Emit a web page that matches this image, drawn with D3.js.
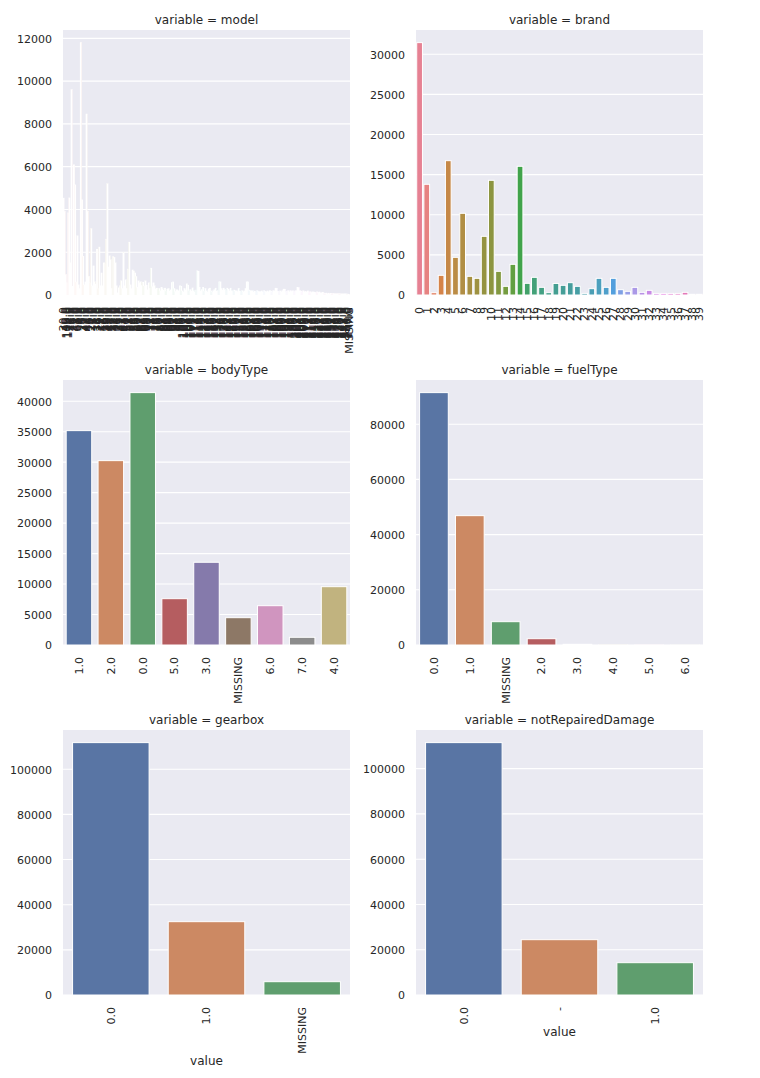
<!DOCTYPE html>
<html><head><meta charset="utf-8">
<script src="https://cdn.jsdelivr.net/npm/d3@7"></script>
<style>
body{margin:0;background:#fff}
svg{display:block}
text{font-family:"DejaVu Sans",sans-serif;fill:#262626}
</style>
</head><body>
<svg id="chart" width="760" height="1078"></svg>
<script>
// ---------------- DATA ----------------
const modelIds = [30,40,115,109,110,24,13,26,19,7,1,48,65,0,4,8,29,31,17,49,46,44,5,10,21,2,6,11,3,36,14,9,22,12,16,15,20,38,25,23,
18,27,28,32,33,34,35,37,39,41,42,43,45,47,50,51,52,53,54,55,56,57,58,59,60,61,62,63,64,
66,67,68,69,70,71,72,73,74,75,76,77,78,79,80,81,82,83,84,85,86,87,88,89,90,91,92,93,94,95,96,97,98,99,100,101,102,103,104,105,106,107,108,
111,112,113,114,
116,117,118,119,120,121,122,123,124,125,126,127,128,129,130,131,132,133,134,135,136,137,138,139,140,141,142,143,144,145,146,147,148,149,150,
151,152,153,154,155,156,157,158,159,160,161,162,163,164,165,166,167,168,169,170,171,172,173,174,175,176,177,178,179,180,181,182,183,184,185,
186,187,188,189,190,191,192,193,194,195,196,197,198,199,200,201,202,203,204,205,206,207,208,209,210,211,212,213,214,215,216,217,218,219,220,
221,222,223,224,225,226,227,228,229,230,231,232,233,234,235,236,237,238,239,240,241,242,243,244,245,246,247];
const modelCategories = modelIds.map(d => d.toFixed(1)).concat(["MISSING"]);
const modelCounts = [
4520,3900,950,560,3830,4530,1500,9600,400,6080,
5140,600,2760,470,300,11800,4440,1800,470,600,
8450,3900,860,560,3100,420,1350,610,500,2130,
300,2230,420,1020,420,1500,1450,2600,5200,1320,
1820,1640,300,1790,1750,1500,420,90,330,420,
660,300,1980,420,700,300,1200,2460,470,300,
1160,1110,1020,860,350,660,560,610,440,590,
420,660,450,230,560,300,1245,390,560,420,
280,310,250,300,200,350,280,220,310,180,
260,300,200,240,580,600,300,160,250,220,
180,420,400,190,150,300,250,510,450,200,
250,170,320,200,150,220,1120,1100,350,200,
250,350,180,300,200,150,280,310,180,150,
200,250,310,170,200,600,610,300,220,310,
250,200,310,260,180,310,200,160,220,180,
200,160,300,170,150,200,140,180,300,610,
600,220,200,180,200,150,170,150,200,160,
140,155,180,130,200,160,150,180,140,200,
170,150,200,180,310,300,160,150,180,140,
200,265,260,150,170,200,140,200,160,190,
150,180,200,350,340,200,170,150,190,140,
160,130,180,120,150,110,140,130,120,110,
140,110,130,100,90,120,80,70,80,60,
75,60,70,55,65,50,60,50,55,45,
50,40,50,40,45,40,35,30,2];
const modelTicks = [0,2000,4000,6000,8000,10000,12000];

const brandCategories = ["0","1","2","3","4","5","6","7","8","9","10","11","12","13","14","15","16","17","18","19",
"20","21","22","23","24","25","26","27","28","29","30","31","32","33","34","35","36","37","38","39"];
const brandCounts = [31446,13793,290,2452,16737,4693,10178,2328,2077,7310,
14290,2949,1080,3821,16035,1455,2201,955,290,1440,
1205,1537,1080,200,789,2077,955,2077,664,457,
955,332,581,200,200,200,200,332,90,90];
const brandTicks = [0,5000,10000,15000,20000,25000,30000];

const bodyTypeCategories = ["1.0","2.0","0.0","5.0","3.0","MISSING","6.0","7.0","4.0"];
const bodyTypeCounts = [35174,30250,41411,7600,13574,4481,6450,1264,9569];
const bodyTypeTicks = [0,5000,10000,15000,20000,25000,30000,35000,40000];

const fuelTypeCategories = ["0.0","1.0","MISSING","2.0","3.0","4.0","5.0","6.0"];
const fuelTypeCounts = [91456,46870,8446,2284,260,120,45,35];
const fuelTypeTicks = [0,20000,40000,60000,80000];

const gearboxCategories = ["0.0","1.0","MISSING"];
const gearboxCounts = [111787,32477,5893];
const gearboxTicks = [0,20000,40000,60000,80000,100000];

const damageCategories = ["0.0","-","1.0"];
const damageCounts = [111490,24437,14273];
const damageTicks = [0,20000,40000,60000,80000,100000];

// ---------------- COLOURS ----------------
const deep = ["#4C72B0","#DD8452","#55A868","#C44E52","#8172B3","#937860","#DA8BC3","#8C8C8C","#CCB974","#64B5CD"];
const HM = [[3.240969941904521,-1.537383177570093,-0.498610760293],
            [-0.96924363628087,1.87596750150772,0.041555057407175],
            [0.055630079696993,-0.20397695888897,1.056971514242878]];
const refU = 0.19783000664283, refV = 0.46831999493879, kappa = 903.2962962, eps = 0.0088564516;
function hBounds(L){
  const sub1 = Math.pow(L+16,3)/1560896, sub2 = sub1 > eps ? sub1 : L/kappa, out = [];
  for (const [m1,m2,m3] of HM) for (const t of [0,1]) {
    const top1 = (284517*m1 - 94839*m3)*sub2;
    const top2 = (838422*m3 + 769860*m2 + 731718*m1)*L*sub2 - 769860*t*L;
    const bottom = (632260*m3 - 126452*m2)*sub2 + 126452*t;
    out.push([top1/bottom, top2/bottom]);
  }
  return out;
}
function maxChroma(L,H){
  const hr = H/360*2*Math.PI; let mn = Infinity;
  for (const [s,i] of hBounds(L)) { const len = i/(Math.sin(hr) - s*Math.cos(hr)); if (len >= 0) mn = Math.min(mn, len); }
  return mn;
}
function husl(H,S,L){
  const C = (L > 99.9999 || L < 1e-5) ? 0 : maxChroma(L,H)/100*S;
  const hr = H/360*2*Math.PI, U = Math.cos(hr)*C, V = Math.sin(hr)*C;
  const Y = L > 8 ? Math.pow((L+16)/116,3) : L/kappa;
  const vu = U/(13*L) + refU, vv = V/(13*L) + refV;
  const X = -(9*Y*vu)/((vu-4)*vv - vu*vv);
  const Z = (9*Y - 15*vv*Y - vv*X)/(3*vv);
  const f = c => c <= 0.0031308 ? 12.92*c : 1.055*Math.pow(c,1/2.4) - 0.055;
  return HM.map(r => Math.min(1, Math.max(0, f(r[0]*X + r[1]*Y + r[2]*Z))));
}
function desat(c){ const h = d3.hsl(c); h.s *= 0.75; return h.formatHex(); }
function huslPalette(n){
  const out = [];
  for (let i = 0; i < n; i++) {
    const h = ((i/n + 0.01) % 1) * 359;
    const [r,g,b] = husl(h, 0.9*99, 0.65*99);
    out.push(desat(d3.rgb(r*255, g*255, b*255)));
  }
  return out;
}
function palette(n){ return n > 10 ? huslPalette(n) : deep.slice(0,n).map(desat); }

// ---------------- LAYOUT ----------------
const svg = d3.select("#chart");
const W = 287, H = 265;
const colX = [63, 416], rowY = [30, 380, 730];

const panels = [
  {name:"model", cats:modelCategories, vals:modelCounts, ticks:modelTicks, c:0, r:0},
  {name:"brand", cats:brandCategories, vals:brandCounts, ticks:brandTicks, c:1, r:0},
  {name:"bodyType", cats:bodyTypeCategories, vals:bodyTypeCounts, ticks:bodyTypeTicks, c:0, r:1},
  {name:"fuelType", cats:fuelTypeCategories, vals:fuelTypeCounts, ticks:fuelTypeTicks, c:1, r:1},
  {name:"gearbox", cats:gearboxCategories, vals:gearboxCounts, ticks:gearboxTicks, c:0, r:2},
  {name:"notRepairedDamage", cats:damageCategories, vals:damageCounts, ticks:damageTicks, c:1, r:2}
];

panels.forEach(p => {
  const x0 = colX[p.c], y0 = rowY[p.r];
  const g = svg.append("g");
  const x = d3.scaleBand().domain(p.cats).range([x0, x0+W]).paddingInner(0.2).paddingOuter(0.1);
  const y = d3.scaleLinear().domain([0, d3.max(p.vals)*1.05]).range([y0+H, y0]);
  const cols = palette(p.cats.length);

  g.append("rect").attr("x", x0).attr("y", y0).attr("width", W).attr("height", H).attr("fill", "#EAEAF2");
  g.append("g").selectAll("line").data(p.ticks).join("line")
    .attr("x1", x0).attr("x2", x0+W)
    .attr("y1", d => y(d)).attr("y2", d => y(d))
    .attr("stroke", "#fff").attr("stroke-width", 1.1);

  g.append("g").selectAll("rect").data(p.vals).join("rect")
    .attr("x", (d,i) => x(p.cats[i]))
    .attr("width", x.bandwidth())
    .attr("y", d => y(d))
    .attr("height", d => y(0) - y(d))
    .attr("fill", (d,i) => cols[i])
    .attr("stroke", "#fff").attr("stroke-width", 1);

  // y axis
  const ya = g.append("g").attr("transform", `translate(${x0},0)`)
    .call(d3.axisLeft(y).tickValues(p.ticks).tickFormat(d3.format("d")).tickSize(0).tickPadding(11));
  ya.select(".domain").remove();
  ya.attr("font-family", null).attr("font-size", null);
  ya.selectAll("text").attr("font-size", 11).attr("fill", "#262626").attr("dy", "0.35em");

  // x axis
  const xa = g.append("g").attr("transform", `translate(0,${y0+H})`)
    .call(d3.axisBottom(x).tickSize(0));
  xa.select(".domain").remove();
  xa.attr("font-family", null).attr("font-size", null);
  xa.selectAll("text")
    .attr("font-size", 11).attr("fill", "#262626")
    .attr("transform", "rotate(-90)")
    .attr("text-anchor", "end")
    .attr("x", -12).attr("y", 0).attr("dy", "0.35em");

  // title
  g.append("text").attr("x", x0 + W/2).attr("y", y0 - 6)
    .attr("text-anchor", "middle").attr("font-size", 12)
    .text("variable = " + p.name);

  if (p.r === 2) {
    const bb = xa.node().getBBox();
    g.append("text").attr("x", x0 + W/2).attr("y", y0 + H + bb.y + bb.height + 11)
      .attr("text-anchor", "middle").attr("font-size", 12).text("value");
  }
});
</script>
</body></html>
